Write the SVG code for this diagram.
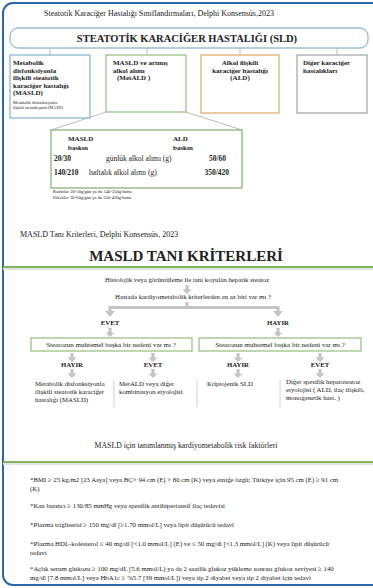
<svg xmlns="http://www.w3.org/2000/svg" width="373" height="588" viewBox="0 0 373 588">
<style>
text{font-family:"Liberation Serif","Times New Roman",serif;fill:#222}
.b{font-weight:bold}
.t7{font-size:7px}
.t6{font-size:6.8px}
.t8{font-size:8px}
.box{fill:#fff;stroke-width:1.3}
.arr{fill:#c4c4c4}
.ln{stroke:#aaa;stroke-width:0.8;fill:none}
.sep{stroke:#d8d8d8;stroke-width:1.2}
.g{stroke:#84b55a;stroke-width:2}
.rf{font-size:6.8px}
</style>
<defs>
<path id="da" d="M-1.6,0 H1.6 V4.5 H4.5 L0,9 L-4.5,4.5 H-1.6 Z"/>
</defs>
<rect width="373" height="588" fill="#fff"/>
<rect x="3" y="3" width="390" height="582" rx="10" fill="none" stroke="#2b67ad" stroke-width="2"/>

<text class="t8" x="44" y="16">Steatotik Karaciğer Hastalığı Sınıflandırmaları, Delphi Konsensüs,2023</text>

<g id="connectors">
<path class="ln" d="M50,48V55M147,48V55M240,48V55M337,48V55"/>
<path class="ln" d="M106,112L51,130M186,112L242,130"/>
<g class="arr">
<use href="#da" x="187" y="285"/>
<path d="M185.5,302H188.5V306H279.5V311H283L278,317L273,311H276.5V309H111.5V311H115L110,317L105,311H108.5V306H185.5Z"/>
<use href="#da" x="110" y="328"/>
<use href="#da" x="278" y="328"/>
<use href="#da" x="72" y="353"/>
<use href="#da" x="153" y="353"/>
<use href="#da" x="238" y="353"/>
<use href="#da" x="320" y="353"/>
<use href="#da" x="72" y="369"/>
<use href="#da" x="153" y="369"/>
<use href="#da" x="238" y="369"/>
<use href="#da" x="320" y="369"/>
</g>
<path class="sep" d="M114,380V407M197,380V407M280,380V407"/>
</g>

<g id="sld">
<rect x="10" y="28" width="358" height="20" rx="8" class="box" stroke="#9dbfcf"/>
<text class="b" x="187" y="42" font-size="10.5" text-anchor="middle">STEATOTİK KARACİĞER HASTALIĞI (SLD)</text>
</g>

<g id="masld">
<rect x="10" y="55" width="80" height="63" class="box" stroke="#8cb9d2"/>
<text class="b t7" x="13" y="65">Metabolik</text>
<text class="b t7" x="13" y="72.5">disfonksiyonla</text>
<text class="b t7" x="13" y="80">ilişkili steatotik</text>
<text class="b t7" x="13" y="87.5">karaciğer hastalığı</text>
<text class="b t7" x="13" y="95">(MASLD)</text>
<text x="13" y="104" font-size="4.3">Metabolik disfonksiyonla</text>
<text x="13" y="109" font-size="4.3">ilişkili steatohepatit (MASH)</text>
</g>

<g id="metald">
<rect x="106" y="55" width="80" height="57" class="box" stroke="#9cc08a"/>
<text class="b t7" x="113" y="65">MASLD ve artmış</text>
<text class="b t7" x="113" y="72.5">alkol alımı</text>
<text class="b t7" x="117" y="80">(MetALD )</text>
</g>

<g id="ald">
<rect x="201" y="55" width="78" height="58" class="box" stroke="#dfb072"/>
<text class="b t7" x="240" y="65" text-anchor="middle">Alkol ilişkili</text>
<text class="b t7" x="240" y="72.5" text-anchor="middle">karaciğer hastalığı</text>
<text class="b t7" x="240" y="80" text-anchor="middle">(ALD)</text>
</g>

<g id="diger">
<rect x="297" y="55" width="70" height="58" class="box" stroke="#aaaaaa"/>
<text class="b t7" x="303" y="65">Diğer karaciğer</text>
<text class="b t7" x="303" y="72.5">hastalıkları</text>
</g>

<g id="alkol-tablo">
<rect x="51" y="130" width="191" height="58" class="box" stroke="#8fb07a" stroke-width="1.6"/>
<text class="b" font-size="7" x="68" y="141">MASLD</text>
<text class="b" font-size="7" x="68" y="149.5">baskın</text>
<text class="b" font-size="7" x="173" y="141">ALD</text>
<text class="b" font-size="7" x="173" y="149.5">baskın</text>
<text class="b" font-size="7.5" x="54" y="161">20/30</text>
<text font-size="7.5" x="106" y="161">günlük alkol alımı (g)</text>
<text class="b" font-size="7.5" x="226" y="161" text-anchor="end">50/60</text>
<text class="b" font-size="7.5" x="54" y="175">140/210</text>
<text font-size="7.5" x="89" y="175">haftalık alkol alımı (g)</text>
<text class="b" font-size="7.5" x="229" y="175" text-anchor="end">350/420</text>
<text x="53" y="193" font-size="4.6">Kadınlar 20-50g/gün ya da 140-350g/hafta</text>
<text x="53" y="199" font-size="4.6">Erkekler  30-60g/gün ya da 350-420g/hafta</text>
</g>

<text class="t8" x="20" y="237">MASLD Tanı Kriterleri, Delphi Konsensüs, 2023</text>
<text class="b" x="186" y="261" font-size="15" text-anchor="middle">MASLD TANI KRİTERLERİ</text>
<line x1="3" y1="269" x2="373" y2="269" stroke="#e2e2e2" stroke-width="2"/>
<line x1="3" y1="267" x2="373" y2="267" class="g"/>

<g id="histoloji"><text class="t6" x="187" y="282" text-anchor="middle">Histolojik veya görüntüleme ile tanı koyulan hepatik steatoz</text></g>
<g id="kardiyo"><text class="t6" x="193" y="299" text-anchor="middle">Hastada kardiyometabolik kriterlerden en az biri var mı ?</text></g>
<g id="evet1"><text class="b t6" x="110" y="325" text-anchor="middle">EVET</text></g>
<g id="hayir1"><text class="b t6" x="278" y="325" text-anchor="middle">HAYIR</text></g>

<g id="steatoz-sol">
<rect x="31" y="338" width="161" height="13" class="box" stroke="#9cc384"/>
<text x="111" y="347" font-size="7" text-anchor="middle">Steatozun muhtemel başka bir nedeni var mı ?</text>
</g>
<g id="steatoz-sag">
<rect x="199" y="338" width="162" height="13" class="box" stroke="#9cc384"/>
<text x="280" y="347" font-size="7" text-anchor="middle">Steatozun muhtemel başka bir nedeni var mı ?</text>
</g>

<g id="hayir2"><text class="b t6" x="72" y="367" text-anchor="middle">HAYIR</text></g>
<g id="evet2"><text class="b t6" x="153" y="367" text-anchor="middle">EVET</text></g>
<g id="hayir3"><text class="b t6" x="238" y="367" text-anchor="middle">HAYIR</text></g>
<g id="evet3"><text class="b t6" x="320" y="367" text-anchor="middle">EVET</text></g>

<g id="sonuc-masld">
<text class="t6" x="35" y="386">Metabolik disfonksiyonla</text>
<text class="t6" x="35" y="394">ilişkili steatotik karaciğer</text>
<text class="t6" x="35" y="402">hastalığı (MASLD)</text>
</g>
<g id="sonuc-metald">
<text class="t6" x="119" y="386">MetALD veya diğer</text>
<text class="t6" x="119" y="394">kombinasyon etyolojisi</text>
</g>
<g id="sonuc-kripto">
<text class="t6" x="207" y="386">Kriptojenik SLD</text>
</g>
<g id="sonuc-diger">
<text class="t6" x="286" y="384">Diğer spesifik hepatoteatoz</text>
<text class="t6" x="286" y="392">etyolojisi ( ALD, ilaç ilişkili,</text>
<text class="t6" x="286" y="400">monogenetik hast. )</text>
</g>

<text x="186" y="448" font-size="7.8" text-anchor="middle">MASLD için tanımlanmış kardiyometabolik risk faktörleri</text>
<line x1="3" y1="464" x2="373" y2="464" stroke="#e2e2e2" stroke-width="2"/>
<line x1="3" y1="462" x2="373" y2="462" class="g"/>

<g id="risk">
<text class="rf" x="30" y="482">*BMI ≥ 25 kg/m2 [23 Asya] veya BÇ&gt; 94 cm (E) &gt; 80 cm (K) veya etniğe özgü; Türkiye için 95 cm (E) ≥ 91 cm</text>
<text class="rf" x="30" y="491">(K)</text>
<text class="rf" x="30" y="508">*Kan basıncı ≥ 130/85 mmHg veya spesifik antihipertansif ilaç tedavisi</text>
<text class="rf" x="30" y="527">*Plazma trigliserid ≥ 150 mg/dl [≥1.70 mmol/L] veya lipit düşürücü tedavi</text>
<text class="rf" x="30" y="546">*Plazma HDL-kolesterol ≤ 40 mg/dl [&lt;1.0 mmol/L] (E) ve ≤ 50 mg/dl [&lt;1.3 mmol/L] (K) veya lipit düşürücü</text>
<text class="rf" x="30" y="555">tedavi</text>
<text class="rf" x="30" y="571">*Açlık serum glukozu ≥ 100 mg/dL [5.6 mmol/L) ya da 2 saatlik glukoz yükleme sonrası glukoz seviyesi ≥ 140</text>
<text class="rf" x="30" y="580">mg/dl [7.8 mmol/L] veya HbA1c ≥ %5.7 [39 mmol/L]) veya tip 2 diyabet veya tip 2 diyabet için tedavi</text>
</g>
</svg>
